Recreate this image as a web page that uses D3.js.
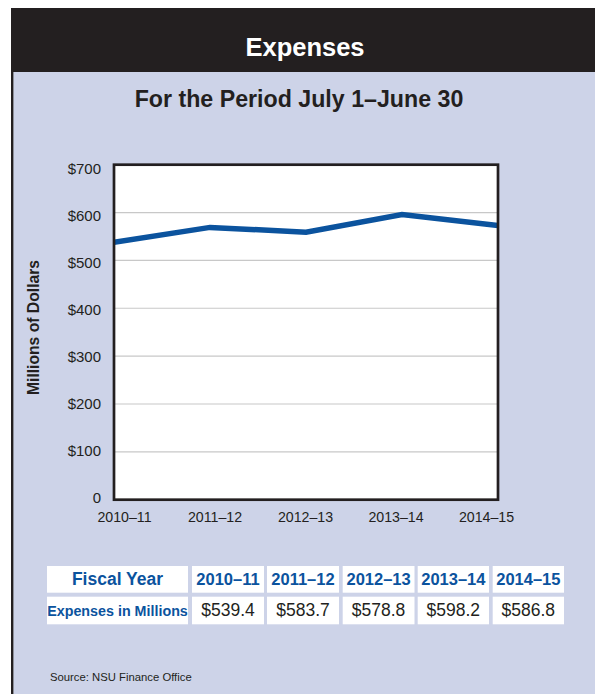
<!DOCTYPE html>
<html>
<head>
<meta charset="utf-8">
<script src="https://cdn.jsdelivr.net/npm/d3@7"></script>
<style>
  html, body { margin: 0; padding: 0; background: #ffffff; }
  svg { display: block; }
  text { font-family: "Liberation Sans", Arial, Helvetica, sans-serif; }
</style>
</head>
<body>
<div id="chart"></div>
<script>
// ---- Data ----
const categories = ["2010–11", "2011–12", "2012–13", "2013–14", "2014–15"];
// values as plotted by the line in the chart (millions of dollars)
const lineValues = [538, 569, 559, 596, 573];
// values as printed in the table
const tableValues = ["$539.4", "$583.7", "$578.8", "$598.2", "$586.8"];
const yTickValues = [0, 100, 200, 300, 400, 500, 600, 700];
const yTickLabels = ["0", "$100", "$200", "$300", "$400", "$500", "$600", "$700"];
const tableHeader = "Fiscal Year";
const tableRowLabel = "Expenses in Millions";
const title = "Expenses";
const subtitle = "For the Period July 1–June 30";
const yTitle = "Millions of Dollars";
const source = "Source: NSU Finance Office";

// ---- Layout ----
const W = 595, H = 694;
const dark = "#231f20", panel = "#cdd3e8", blue = "#0b539e", grid = "#c8c8c8";
const plot = { left: 114, right: 498, top: 164.7, bottom: 499.7 };

const svg = d3.select("#chart").append("svg").attr("width", W).attr("height", H);

// header band and panel
svg.append("rect").attr("x", 11).attr("y", 72).attr("width", W - 11).attr("height", H - 72).attr("fill", panel);
svg.append("rect").attr("x", 11).attr("y", 8).attr("width", W - 11).attr("height", 64).attr("fill", dark);
svg.append("rect").attr("x", 11).attr("y", 72).attr("width", 2).attr("height", H - 72).attr("fill", dark);
svg.append("rect").attr("x", 13).attr("y", 72).attr("width", 1).attr("height", H - 72).attr("fill", "#8d8f99");

svg.append("text").attr("x", 305).attr("y", 56).attr("text-anchor", "middle")
  .attr("fill", "#ffffff").attr("font-weight", "bold").attr("font-size", 25.5).text(title);
svg.append("text").attr("x", 299).attr("y", 107.4).attr("text-anchor", "middle")
  .attr("fill", dark).attr("font-weight", "bold").attr("font-size", 23.2).text(subtitle);

// scales
const x = d3.scalePoint().domain(categories).range([plot.left, plot.right]);
const y = d3.scaleLinear().domain([0, 700]).range([plot.bottom, plot.top]);
const xLabel = d3.scalePoint().domain(categories).range([124, 486]);
const yLabel = d3.scaleLinear().domain([0, 700]).range([497.5, 169]);

// plot background
svg.append("rect").attr("x", plot.left).attr("y", plot.top)
  .attr("width", plot.right - plot.left).attr("height", plot.bottom - plot.top).attr("fill", "#ffffff");

// gridlines
svg.append("g").selectAll("line").data(yTickValues.filter(v => v > 0 && v < 700)).join("line")
  .attr("x1", plot.left).attr("x2", plot.right)
  .attr("y1", d => y(d)).attr("y2", d => y(d))
  .attr("stroke", grid).attr("stroke-width", 1.2);

// y tick labels via axis
const yAxis = d3.axisLeft(yLabel).tickValues(yTickValues)
  .tickFormat((d, i) => yTickLabels[i]).tickSize(0).tickPadding(0);
const gy = svg.append("g").attr("transform", "translate(101,0)").call(yAxis);
gy.select(".domain").remove();
gy.selectAll("text").attr("font-size", 15).attr("fill", dark)
  .style("font-family", '"Liberation Sans", Arial, sans-serif');

// x tick labels via axis
const xAxis = d3.axisBottom(xLabel).tickSize(0).tickPadding(0);
const gx = svg.append("g").attr("transform", "translate(0,512)").call(xAxis);
gx.select(".domain").remove();
gx.selectAll("text").attr("font-size", 14.2).attr("fill", dark).attr("dy", "0.71em")
  .style("font-family", '"Liberation Sans", Arial, sans-serif');

// line
svg.append("clipPath").attr("id", "pclip").append("rect")
  .attr("x", plot.left).attr("y", plot.top).attr("width", plot.right - plot.left).attr("height", plot.bottom - plot.top);
svg.append("path").datum(lineValues)
  .attr("clip-path", "url(#pclip)")
  .attr("d", d3.line().x((d, i) => x(categories[i])).y(d => y(d)))
  .attr("fill", "none").attr("stroke", blue).attr("stroke-width", 5.5)
  .attr("stroke-linejoin", "miter");

// frame
svg.append("rect").attr("x", plot.left).attr("y", plot.top)
  .attr("width", plot.right - plot.left).attr("height", plot.bottom - plot.top)
  .attr("fill", "none").attr("stroke", dark).attr("stroke-width", 2.7);

// y title
svg.append("text").attr("transform", "translate(39,327.5) rotate(-90)")
  .attr("text-anchor", "middle").attr("font-weight", "bold").attr("font-size", 15.7)
  .attr("fill", dark).text(yTitle);

// table
const colEdges = [[47, 188], [192, 264], [267, 339], [342.7, 414.5], [417.7, 489], [492.7, 564]];
const rows = [[566, 592.7], [596.7, 624.3]];
const tbl = svg.append("g");
const row1 = [tableHeader].concat(categories);
const row2 = [tableRowLabel].concat(tableValues);
[row1, row2].forEach((row, r) => {
  row.forEach((txt, c) => {
    const [x0, x1] = colEdges[c];
    const [y0, y1] = rows[r];
    tbl.append("rect").attr("x", x0).attr("y", y0).attr("width", x1 - x0).attr("height", y1 - y0).attr("fill", "#ffffff");
    const isBlue = r === 0 || c === 0;
    tbl.append("text").attr("x", (x0 + x1) / 2).attr("y", r === 0 ? 585 : 615.5)
      .attr("text-anchor", "middle")
      .attr("fill", isBlue ? blue : dark)
      .attr("font-weight", isBlue ? "bold" : "normal")
      .attr("font-size", (r === 1 && c === 0) ? 14.3 : (r === 0 && c === 0 ? 17.5 : (isBlue ? 16.5 : 17.5)))
      .text(txt);
  });
});

// source
svg.append("text").attr("x", 50).attr("y", 681).attr("font-size", 11.3).attr("fill", dark).text(source);
</script>
</body>
</html>
